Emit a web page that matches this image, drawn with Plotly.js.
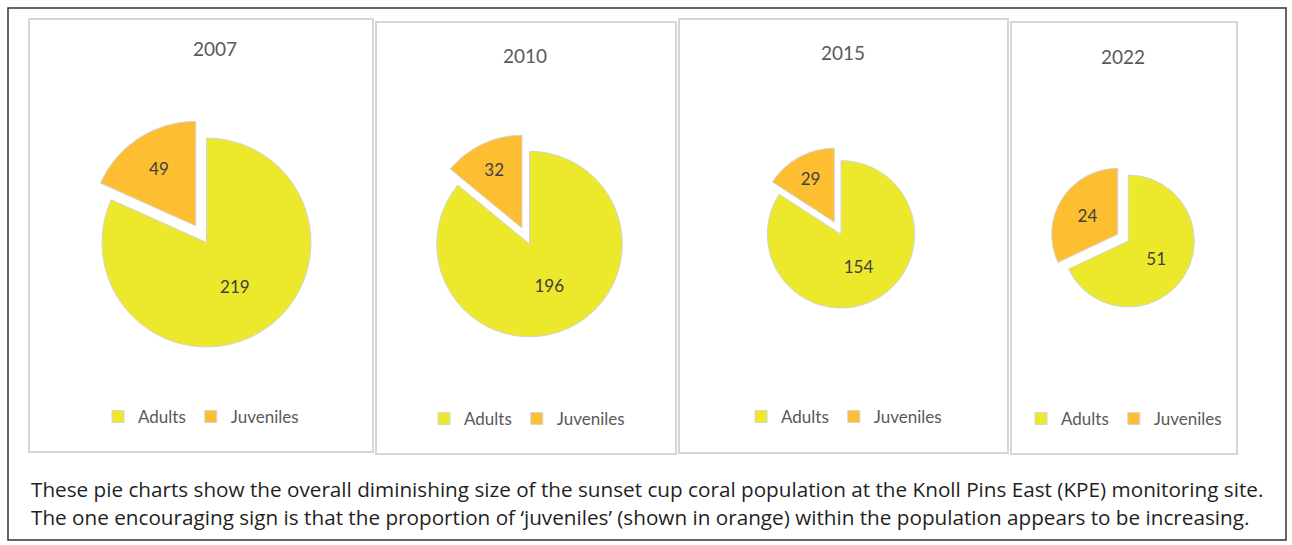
<!DOCTYPE html>
<html>
<head>
<meta charset="utf-8">
<script src="https://cdn.plot.ly/plotly-3.0.1.min.js"></script>
<style>
  html, body { margin: 0; padding: 0; background: #ffffff; }
  #chart { width: 1292px; height: 545px; }
</style>
</head>
<body>
<div id="chart"></div>
<script>
// ---- data ----
const years = ['2007', '2010', '2015', '2022'];
const categories = ['Adults', 'Juveniles'];
const adults = [219, 196, 154, 51];
const juveniles = [49, 32, 29, 24];
const captionLines = [
  'These pie charts show the overall diminishing size of the sunset cup coral population at the Knoll Pins East (KPE) monitoring site.',
  'The one encouraging sign is that the proportion of \u2018juveniles\u2019 (shown in orange) within the population appears to be increasing.'
];

// ---- layout / style (pixels) ----
const W = 1292, H = 545;
const PULL = 0.19;
const pieCenters = [[206.5, 242.5], [529.5, 244], [841, 234.3], [1128.3, 241]];
const pieRadii = [104.5, 92.8, 73.7, 66];
const panels = [[29, 19, 373, 452], [376, 22, 676, 454], [679, 19, 1008, 453], [1011, 22, 1237, 454]];
const titlePos = [[215, 49], [525, 55], [843, 53], [1123, 56]];
const legendPos = [[201, 417], [527, 419], [844, 417], [1124, 419]];
const COLORS = ['#ECE82C', '#FDBE32'];
const FONT = 'Lato, "Open Sans", sans-serif';
const CAPTION_FONT = '"Open Sans", "Noto Sans", sans-serif';

const px = x => x / W;
const py = y => 1 - y / H;
const legendKey = i => (i === 0 ? 'legend' : 'legend' + (i + 1));

const traces = years.map((yr, i) => {
  const [cx, cy] = pieCenters[i];
  const half = pieRadii[i] * (1 + PULL);
  return {
    type: 'pie',
    name: yr,
    labels: categories,
    values: [adults[i], juveniles[i]],
    sort: false,
    direction: 'clockwise',
    rotation: 0,
    pull: [0, PULL],
    marker: { colors: COLORS, line: { color: '#D4D4D4', width: 1 } },
    textinfo: 'value',
    textposition: 'inside',
    insidetextorientation: 'horizontal',
    textfont: { family: FONT, size: 17, color: '#404040' },
    hoverinfo: 'label+value+percent',
    domain: { x: [px(cx - half), px(cx + half)], y: [py(cy + half), py(cy - half)] },
    legend: legendKey(i),
    legendgroup: 'g' + yr
  };
});

const shapes = panels.map(p => ({
  type: 'rect', xref: 'paper', yref: 'paper',
  x0: px(p[0]), x1: px(p[2]), y0: py(p[3]), y1: py(p[1]),
  line: { color: '#D6D6D6', width: 2 }, fillcolor: 'rgba(0,0,0,0)', layer: 'below'
}));
shapes.push({
  type: 'rect', xref: 'paper', yref: 'paper',
  x0: px(8), x1: px(1286), y0: py(540), y1: py(8),
  line: { color: '#333333', width: 1.5 }, fillcolor: 'rgba(0,0,0,0)', layer: 'below'
});

const annotations = years.map((yr, i) => ({
  text: yr, xref: 'paper', yref: 'paper',
  x: px(titlePos[i][0]), y: py(titlePos[i][1]),
  xanchor: 'center', yanchor: 'middle', showarrow: false,
  font: { family: FONT, size: 19, color: '#595959' }
}));
captionLines.forEach((line, k) => {
  annotations.push({
    text: line, xref: 'paper', yref: 'paper',
    x: px(29), y: py(489 + k * 28),
    xanchor: 'left', yanchor: 'middle', showarrow: false,
    font: { family: CAPTION_FONT, size: 20.7, color: '#1F1F1F' }
  });
});

const layout = {
  width: W, height: H,
  margin: { l: 0, r: 0, t: 0, b: 0 },
  paper_bgcolor: '#ffffff',
  plot_bgcolor: '#ffffff',
  shapes: shapes,
  annotations: annotations,
  showlegend: true
};
legendPos.forEach((lp, i) => {
  layout[legendKey(i)] = {
    orientation: 'h',
    x: px(lp[0]), y: py(lp[1]),
    xanchor: 'center', yanchor: 'middle',
    font: { family: FONT, size: 17, color: '#595959' },
    bgcolor: 'rgba(0,0,0,0)',
    itemwidth: 30,
    tracegroupgap: 0,
    traceorder: 'normal'
  };
});

Plotly.newPlot('chart', traces, layout, { displayModeBar: false, responsive: false });
</script>
</body>
</html>
